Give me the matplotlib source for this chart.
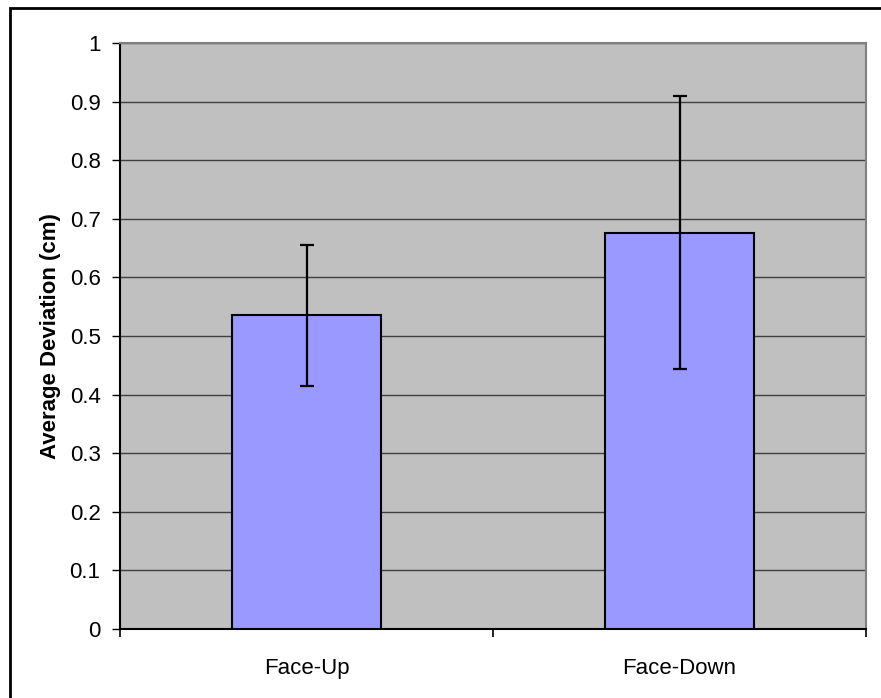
import matplotlib.pyplot as plt
from matplotlib.patches import Rectangle

plt.rcParams['font.family'] = ['Liberation Sans', 'DejaVu Sans']

categories = ['Face-Up', 'Face-Down']
means = [0.535, 0.676]
errors = [0.121, 0.233]
yticks = [0, 0.1, 0.2, 0.3, 0.4, 0.5, 0.6, 0.7, 0.8, 0.9, 1]
ytick_labels = ['0', '0.1', '0.2', '0.3', '0.4', '0.5', '0.6', '0.7', '0.8', '0.9', '1']

fig = plt.figure(figsize=(8.81, 6.98), dpi=100)
ax = fig.add_axes([120/881, 1 - 629/698, (866 - 120)/881, (629 - 43)/698])
ax.set_facecolor('#C0C0C0')

x = list(range(len(categories)))
ax.bar(x, means, width=0.4, color='#9999FF', edgecolor='black', linewidth=1.5, zorder=3)
ax.errorbar(x, means, yerr=errors, fmt='none', ecolor='black', elinewidth=1.6,
            capsize=4.7, capthick=1.6, zorder=4)

ax.set_xlim(-0.5, 1.5)
ax.set_ylim(0, 1)
ax.set_yticks(yticks)
ax.set_yticklabels(ytick_labels, fontsize=16)
ax.set_xticks(x)
ax.set_xticklabels(categories, fontsize=16)
ax.tick_params(axis='x', which='major', length=0, pad=21)
ax.set_xticks([-0.5, 0.5, 1.5], minor=True)
ax.tick_params(axis='x', which='minor', length=6, width=1.2, direction='out')
ax.tick_params(axis='y', length=6, width=1, direction='out', pad=8)

ax.yaxis.grid(True, color='#404040', linewidth=1)
ax.set_axisbelow(True)

for side in ['top', 'right']:
    ax.spines[side].set_color('#808080')
    ax.spines[side].set_linewidth(1.5)
for side in ['left', 'bottom']:
    ax.spines[side].set_color('black')
    ax.spines[side].set_linewidth(1.5)

ax.set_ylabel('Average Deviation (cm)', fontsize=16, fontweight='bold', labelpad=6)

# outer chart border (only left and top visible in the crop)
fig.patches.append(Rectangle((10/881, -0.1), 1.2, 1.1 - 8/698, transform=fig.transFigure,
                             fill=False, edgecolor='black', linewidth=2))

fig.savefig('out.png', dpi=100)
